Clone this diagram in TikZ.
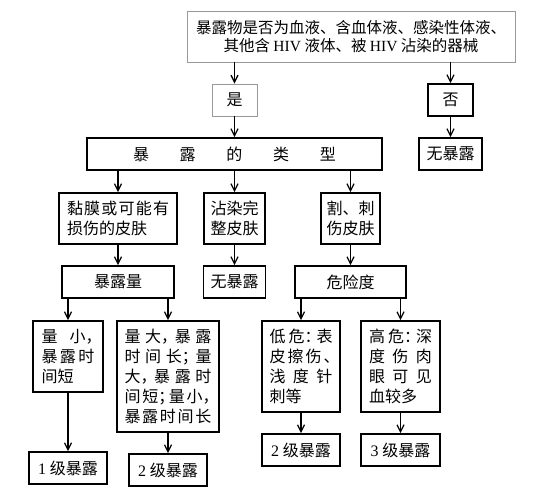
\documentclass[tikz,border=0pt]{standalone}
\usepackage{fontspec}
\setmainfont{Liberation Serif}
\newfontfamily\cjk{Noto Sans CJK SC}
\usetikzlibrary{arrows.meta}
\newcommand{\latn}[1]{{\rmfamily #1}}
\newcommand{\halfp}[1]{\makebox[0.55em][l]{#1}}
\newcommand{\spreadline}[2]{\makebox[#1][s]{\spaceskip=0pt plus 1fil\relax #2}}
\tikzset{
mybox/.style={
  draw,
  line width=1.6pt,
  inner sep=0pt,
  align=left,
  font=\cjk\fontsize{16}{20}\selectfont
  },
mythin/.style={
  mybox,
  draw=gray!80,
  line width=0.8pt
  },
myarr/.style={
  ->,
  line width=1.3pt
  },
sz/.style 2 args={
  minimum width=#1,
  minimum height=#2
  }
}
\begin{document}
\begin{tikzpicture}[x=1pt,y=-1pt,>={Straight Barb[length=7pt,width=7pt]}]
            \useasboundingbox (0,0) rectangle (538,500);
            \node[mythin,sz={328pt}{51pt},align=center,font=\cjk\fontsize{15.5}{18}\selectfont]
            (src) at (351,36.5)
            {暴露物是否为血液、含血体液、感染性体液、\\其他含 \latn{HIV} 液体、被 \latn{HIV} 沾染的器械};
            \node[mythin,sz={45pt}{32pt}] (yes) at (234.5,100) {是};
            \node[mybox,sz={45pt}{32pt}] (no) at (450.5,100) {否};
            \node[mybox,sz={63pt}{32pt}] (none0) at (450.5,154) {无暴露};
            \node[mybox,sz={295pt}{32pt}] (types) at (234.5,154) {\spreadline{203pt}{暴 露 的 类 型}};
            \node[mybox,sz={118pt}{51pt}] (mucosa) at (118,218.5)
            {\spreadline{102pt}{黏 膜 或 可 能 有}\\损伤的皮肤};
            \node[mybox,sz={61pt}{51pt}] (intact) at (234.5,218.5) {沾染完\\整皮肤};
            \node[mybox,sz={59pt}{51pt}] (cut) at (350.5,218.5) {割、刺\\伤皮肤};
            \node[mybox,sz={112pt}{32pt}] (dose) at (118,282) {暴露量};
            \node[mybox,sz={62pt}{32pt}] (none1) at (234.5,282) {无暴露};
            \node[mybox,sz={111pt}{32pt}] (risk) at (350.5,282) {危险度};
            \node[mybox,sz={70pt}{71pt}] (small) at (68,356.5)
            {\spreadline{53pt}{量 小\halfp{，}}\\\spreadline{53pt}{暴 露 时}\\间短};
            \node[mybox,sz={102pt}{111pt}] (large) at (168,376.5)
            {\spreadline{87pt}{量 大\halfp{，} 暴 露}\\
             \spreadline{87pt}{时 间 长\halfp{；} 量}\\
             \spreadline{87pt}{大\halfp{，} 暴 露 时}\\
             \spreadline{87pt}{间 短\halfp{；} 量 小\halfp{，}}\\
             \spreadline{87pt}{暴 露 时 间 长}};
            \node[mybox,sz={78pt}{91pt}] (low) at (301,366.5)
            {\spreadline{63pt}{低 危\halfp{：} 表}\\
             \spreadline{63pt}{皮 擦 伤 \halfp{、}}\\
             \spreadline{63pt}{浅 度 针}\\
             刺等};
            \node[mybox,sz={79pt}{91pt}] (high) at (400.5,366.5)
            {\spreadline{63pt}{高 危\halfp{：} 深}\\
             \spreadline{63pt}{度 伤 肉}\\
             \spreadline{63pt}{眼 可 见}\\
             血较多};
            \node[mybox,sz={78pt}{32pt}] (lvlA) at (68,468) {\latn{1} 级暴露};
            \node[mybox,sz={78pt}{32pt}] (lvlB) at (168,470) {\latn{2} 级暴露};
            \node[mybox,sz={78pt}{32pt}] (lvlC) at (301,450) {\latn{2} 级暴露};
            \node[mybox,sz={79pt}{32pt}] (lvlD) at (400.5,450) {\latn{3} 级暴露};
            \draw[myarr] (yes.north |- src.south) -- (yes);
            \draw[myarr] (no.north |- src.south) -- (no);
            \draw[myarr] (yes) -- (types);
            \draw[myarr] (no) -- (none0);
            \foreach \n in {mucosa,intact,cut}
                \draw[myarr] (\n.north |- types.south) -- (\n);
            \draw[myarr] (mucosa) -- (dose);
            \draw[myarr] (intact) -- (none1);
            \draw[myarr] (cut) -- (risk);
            \foreach \n in {small,large}
                \draw[myarr] (\n.north |- dose.south) -- (\n);
            \foreach \n in {low,high}
                \draw[myarr] (\n.north |- risk.south) -- (\n);
            \draw[myarr] (small) -- (lvlA);
            \draw[myarr] (large) -- (lvlB);
            \draw[myarr] (low) -- (lvlC);
            \draw[myarr] (high) -- (lvlD);
        \end{tikzpicture}
\end{document}
